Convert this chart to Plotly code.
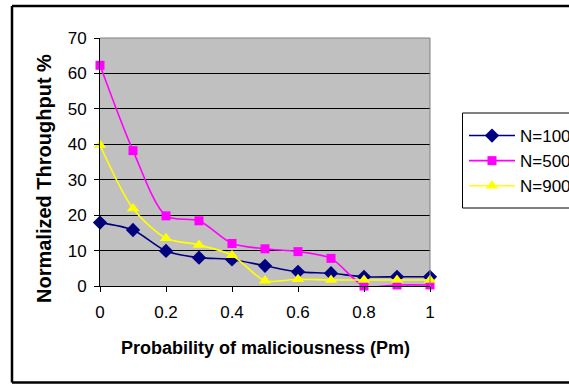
import plotly.graph_objects as go

pm = [0, 0.1, 0.2, 0.3, 0.4, 0.5, 0.6, 0.7, 0.8, 0.9, 1.0]
n100 = [17.9, 15.8, 9.9, 8.0, 7.5, 5.7, 4.0, 3.6, 2.6, 2.6, 2.6]
n500 = [62.3, 38.2, 19.8, 18.4, 12.0, 10.5, 9.7, 7.8, 0.0, 0.3, 0.3]
n900 = [39.8, 21.9, 13.5, 11.6, 8.7, 1.5, 1.9, 1.7, 1.7, 1.7, 1.7]
series_names = ["N=100", "N=500", "N=900"]
y_ticks = [0, 10, 20, 30, 40, 50, 60, 70]
x_ticks = [0, 0.2, 0.4, 0.6, 0.8, 1]

FONT = "Liberation Sans, Arial, sans-serif"

fig = go.Figure()
styles = [
    dict(color="#000080", symbol="diamond", size=11),
    dict(color="#FF00FF", symbol="square", size=9),
    dict(color="#FFFF00", symbol="triangle-up", size=11),
]
for name, vals, st in zip(series_names, [n100, n500, n900], styles):
    fig.add_trace(go.Scatter(
        x=pm, y=vals, name=name, mode="lines+markers",
        line=dict(color=st["color"], width=1.6, shape="spline", smoothing=0.8),
        marker=dict(color=st["color"], symbol=st["symbol"], size=st["size"]),
        cliponaxis=False,
    ))

W, H = 569, 384
L, R, T, B = 100, 139, 38, 98
pw, ph = W - L - R, H - T - B

def px(x):
    return (x - L) / pw

def py(y):
    return (H - B - y) / ph

fig.update_layout(
    width=W, height=H,
    margin=dict(l=L, r=R, t=T, b=B, autoexpand=False),
    paper_bgcolor="white",
    plot_bgcolor="#C0C0C0",
    font=dict(family=FONT, size=17, color="black"),
    showlegend=True,
    legend=dict(
        x=px(464), y=py(118), xanchor="left", yanchor="top",
        borderwidth=0, bgcolor="rgba(0,0,0,0)",
        font=dict(size=17, family=FONT),
        tracegroupgap=0, itemwidth=46,
    ),
    xaxis=dict(
        range=[0, 1], tickvals=x_ticks, ticktext=[str(v) for v in x_ticks],
        showgrid=False, zeroline=False,
        showline=True, linecolor="black", linewidth=1,
        ticks="outside", ticklen=5, tickcolor="black",
        ticklabelstandoff=6,
        tickfont=dict(size=17),
    ),
    yaxis=dict(
        range=[0, 70], tickvals=y_ticks,
        showgrid=True, gridcolor="black", gridwidth=1,
        zeroline=False,
        showline=True, linecolor="black", linewidth=1,
        ticks="outside", ticklen=5, tickcolor="black",
        ticklabelstandoff=4,
        tickfont=dict(size=17),
    ),
    shapes=[
        # outer chart border (right side runs off the image)
        dict(type="line", xref="paper", yref="paper",
             x0=px(12), x1=px(700), y0=py(6), y1=py(6),
             line=dict(color="black", width=2.5)),
        dict(type="line", xref="paper", yref="paper",
             x0=px(12), x1=px(700), y0=py(382.5), y1=py(382.5),
             line=dict(color="black", width=2.5)),
        dict(type="line", xref="paper", yref="paper",
             x0=px(12), x1=px(12), y0=py(6), y1=py(382.5),
             line=dict(color="black", width=2.5)),
        # legend box
        dict(type="rect", xref="paper", yref="paper",
             x0=px(462.5), x1=px(700), y0=py(208), y1=py(113),
             line=dict(color="black", width=1), fillcolor="white", layer="below"),
        # plot area border (gray)
        dict(type="line", xref="paper", yref="paper",
             x0=1, x1=1, y0=0, y1=1, line=dict(color="#808080", width=1)),
        dict(type="line", xref="paper", yref="paper",
             x0=0, x1=1, y0=1, y1=1, line=dict(color="#808080", width=1)),
    ],
    annotations=[
        dict(text="<b>Probability of maliciousness (Pm)</b>", xref="paper", yref="paper",
             x=px(265), y=py(348), showarrow=False, font=dict(size=18),
             xanchor="center", yanchor="middle"),
        dict(text="<b>Normalized Throughput %</b>", xref="paper", yref="paper",
             x=px(44), y=py(179), showarrow=False, font=dict(size=20), textangle=-90,
             xanchor="center", yanchor="middle"),
    ],
)

fig.write_html("out.html")
